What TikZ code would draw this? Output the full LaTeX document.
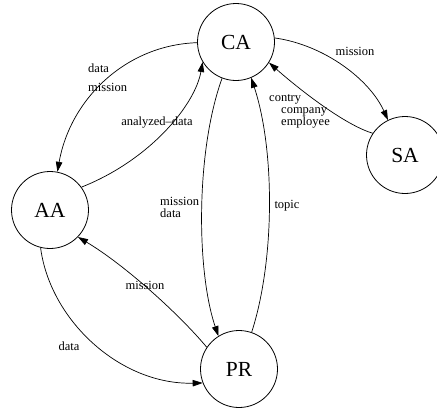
\documentclass[tikz,border=0pt]{standalone}
\usepackage{fontspec}
\setmainfont{Liberation Serif}
\usetikzlibrary{arrows.meta}

\begin{document}
\begin{tikzpicture}[
    x=1pt, y=-1pt,
    agent/.style={draw, circle, line width=0.8pt, minimum size=77pt, inner sep=0pt, font=\fontsize{21.5}{24}\selectfont},
    lbl/.style={inner sep=0pt, font=\fontsize{12.5}{12}\selectfont},
    arrow/.style={-{Triangle[length=10pt,width=6.5pt]}, line width=0.7pt}
  ]
    \useasboundingbox (0,0) rectangle (437,408);
    % agents
    \node[agent] (ca) at (236,42) {CA};
    \node[agent] (sa) at (405,155) {SA};
    \node[agent] (aa) at (50,210) {AA};
    \node[agent] (pr) at (239,369) {PR};
    % messages
    \draw[arrow] (ca.181) .. controls (125,45) and (70,100) .. (aa.79);
    \draw[arrow] (aa.36) .. controls (150,160) and (195,105) .. (ca.211);
    \draw[arrow] (ca.249) .. controls (196,150) and (196,270) .. (pr.122);
    \draw[arrow] (pr.71) .. controls (275,260) and (275,150) .. (ca.293);
    \draw[arrow] (ca.6) .. controls (325,45) and (370,80) .. (sa.116);
    \draw[arrow] (sa.146) .. controls (345,125) and (300,90) .. (ca.328);
    \draw[arrow] (pr.146) .. controls (180,315) and (125,265) .. (aa.316);
    \draw[arrow] (aa.256) .. controls (50,320) and (120,385) .. (pr.201);
    % labels
    \node[lbl, align=left, anchor=west, font=\fontsize{12.5}{19}\selectfont] (l-cadata) at (88,78) {data\\mission};
    \node[lbl] (l-analyzed) at (157,123) {analyzed--data};
    \node[lbl, align=left, anchor=west] (l-caprmission) at (160,207) {mission\\data};
    \node[lbl] (l-topic) at (287,206) {topic};
    \node[lbl] (l-casa) at (355,51) {mission};
    \node[lbl, align=left, anchor=west] (l-sa) at (269,111) {contry\\\hspace*{12pt}company\\\hspace*{12pt}employee};
    \node[lbl] (l-pramission) at (145,285) {mission};
    \node[lbl] (l-aadata) at (69,346) {data};
  \end{tikzpicture}
\end{document}
